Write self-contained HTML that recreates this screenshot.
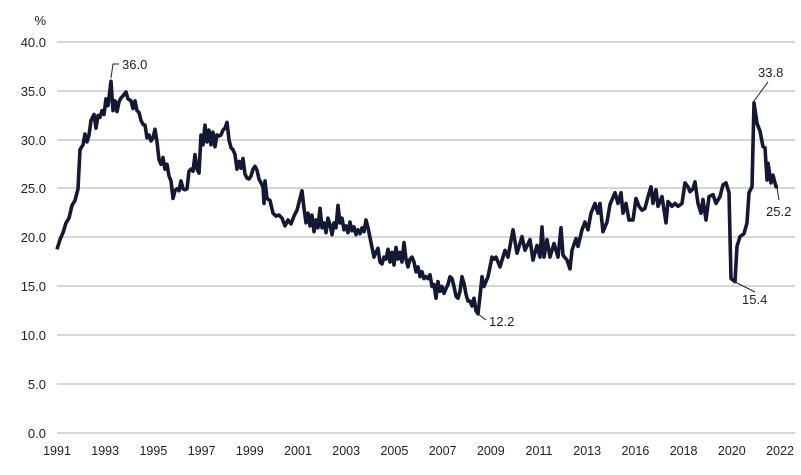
<!DOCTYPE html>
<html><head><meta charset="utf-8"><style>
html,body{margin:0;padding:0;background:#fff;}
svg{display:block;font-family:"Liberation Sans",sans-serif;}
</style></head><body>
<svg id="c" width="801" height="475" viewBox="0 0 801 475" xmlns="http://www.w3.org/2000/svg">
<g stroke="#c8c8c8" stroke-width="1.5">
<line x1="57" x2="795" y1="42" y2="42"/><line x1="57" x2="795" y1="91" y2="91"/>
<line x1="57" x2="795" y1="140" y2="140"/><line x1="57" x2="795" y1="188" y2="188"/>
<line x1="57" x2="795" y1="237" y2="237"/><line x1="57" x2="795" y1="286" y2="286"/>
<line x1="57" x2="795" y1="335" y2="335"/><line x1="57" x2="795" y1="384" y2="384"/>
<line x1="57" x2="795" y1="433" y2="433"/>
</g>
<g font-size="13" fill="#222" text-anchor="end">
<text x="46" y="25">%</text>
<text x="46" y="47">40.0</text><text x="46" y="96">35.0</text><text x="46" y="145">30.0</text>
<text x="46" y="193">25.0</text><text x="46" y="242">20.0</text><text x="46" y="291">15.0</text>
<text x="46" y="340">10.0</text><text x="46" y="389">5.0</text><text x="46" y="438">0.0</text>
</g>
<g font-size="12.5" fill="#222" text-anchor="middle" id="xl"></g>
<path id="ln" fill="none" stroke="#141833" stroke-width="3.6" stroke-linejoin="round"/>
<g stroke="#222" stroke-width="1" fill="none">
<polyline points="111,78 113,64 119,64"/>
<line x1="754" y1="101" x2="768" y2="82"/>
<line x1="777" y1="188" x2="779" y2="200"/>
<line x1="735" y1="282" x2="755" y2="292"/>
<line x1="478" y1="314" x2="486" y2="320"/>
</g>
<g font-size="13" fill="#222">
<text x="122" y="69">36.0</text>
<text x="758" y="77">33.8</text>
<text x="766" y="216">25.2</text>
<text x="742" y="304">15.4</text>
<text x="489" y="326">12.2</text>
</g>
</svg>
<script>
var yrs=["1991","1993","1995","1997","1999","2001","2003","2005","2007","2009","2011","2013","2016","2018","2020","2022"];
var g=document.getElementById("xl"),s="";
for(var i=0;i<yrs.length;i++){var x=57+i*(780-57)/15;s+='<text x="'+x.toFixed(1)+'" y="455">'+yrs[i]+'</text>';}
g.innerHTML=s;
var d=[57,18.8,60,19.8,63,20.5,66,21.5,69,22.0,72,23.3,75,23.8,78,25,80,29,83,29.5,85,30.6,87,29.8,89,30.5,91,32,94,32.6,96,31.2,98,32.5,100,32.3,102,33,104,32.6,106,34.2,108,33.5,111,36.0,113,33,115,34,117,32.9,119,33.9,121,34.3,123,34.5,126,34.9,128,34.2,131,34.0,133,33.2,135,34.0,137,33.0,139,32.8,141,32.0,143,31.6,145,31.5,147,30.2,149,30.5,151,29.9,153,30.2,155,31.1,157,29.8,159,28.0,161,27.5,163,28.2,165,27.0,167,27.5,169,26.3,171,25.8,173,24.0,175,24.8,177,25.0,179,24.8,181,25.8,183,25.0,185,24.9,187,25.0,189,26.8,191,27.0,193,26.8,195,28.5,197,27.0,199,26.6,201,30.5,203,29.5,205,31.5,207,29.8,209,31,211,29.5,213,30.8,215,29.3,217,30.5,219,30.4,221,30.5,223,31,225,31.2,227,31.8,229,30,231,29.2,233,29.0,235,28.5,237,27.0,239,27.8,241,27.1,243,28.1,245,26.5,247,26.1,249,26.0,251,26.3,253,27.0,255,27.3,257,26.9,259,26.0,261,25.6,263,25.2,264,23.5,265,25.8,267,24.0,270,23.8,273,22.5,276,22.2,279,22.3,282,22.0,285,21.2,288,21.8,291,21.4,294,22.2,297,22.8,300,24.0,302,24.8,304,23.0,306,21.5,308,22.5,310,21.2,312,22.3,314,20.6,316,21.8,318,21.0,320,23.0,322,21.0,324,21.5,326,20.5,328,22.0,330,21.3,332,20.3,334,21.5,336,21.0,338,23.3,340,21.5,342,22.0,344,20.8,346,21.2,348,20.5,350,21.6,352,20.7,354,21.1,356,20.3,358,20.8,360,20.4,362,21.0,364,20.6,366,21.8,368,21.0,370,20.0,372,19.0,374,18.0,376,18.5,378,18.9,380,17.5,382,17.3,384,18.0,386,17.8,388,18.8,390,17.5,392,18.5,394,17.2,396,19.0,398,17.8,400,18.5,402,17.5,404,19.5,406,17.8,408,17.0,410,17.8,412,18.0,414,17.5,416,16.5,418,17.0,420,16.0,422,16.5,424,15.8,426,16.0,428,15.8,430,16.2,432,15.0,434,15.2,436,13.8,438,15.5,440,14.5,442,15.0,444,14.3,446,14.8,448,15.2,450,16.0,452,15.8,454,15.0,456,14.0,458,13.8,460,14.5,462,16.0,464,15.3,466,14.2,468,13.5,470,13.5,472,13.0,474,13.8,476,12.5,478,12.2,480,14.0,482,16.0,484,15.0,486,15.5,488,16.0,490,17.0,492,18.0,494,17.8,496,18.0,498,17.5,500,17.0,505,18.7,508,18,513,20.8,517,18.4,522,20.1,525,18.7,530,19.8,533,17.7,537,19.2,540,18,542,21.1,544,18,547,19.8,550,18,554,19.4,558,18,561,21,563,18.2,567,17.7,570,16.8,572,18.7,576,19.9,578,19.1,582,20.8,585,21.6,588,20.8,591,22.5,595,23.5,598,22.5,600,23.5,603,20.6,607,21.6,610,23.4,615,24.6,618,23.5,621,24.6,623,22.5,626,23.5,629,21.8,633,21.8,636,24.0,639,23.2,642,22.8,645,23.0,648,24.2,651,25.2,653,23.5,656,24.9,658,23.2,662,24.2,666,21.5,668,23.7,672,23.2,675,23.5,678,23.2,682,23.5,685,25.6,688,25.2,690,24.7,693,25.0,695,25.7,698,23.5,701,22.5,703,23.9,706,21.8,709,24.2,713,24.4,716,23.5,720,24.2,723,25.4,726,25.6,729,24.6,731,15.8,735,15.5,737,19.1,740,20.1,744,20.4,747,21.5,749,24.6,752,25.2,754,33.8,757,31.7,760,30.9,763,29.3,765,29.2,767,25.9,768,27.6,771,25.6,773,26.4,776,25.2,778,25.2];
var p="";
for(var i=0;i<d.length;i+=2){p+=(i?"L":"M")+d[i]+","+(433-9.77*d[i+1]).toFixed(1);}
document.getElementById("ln").setAttribute("d",p);
</script>
</body></html>
